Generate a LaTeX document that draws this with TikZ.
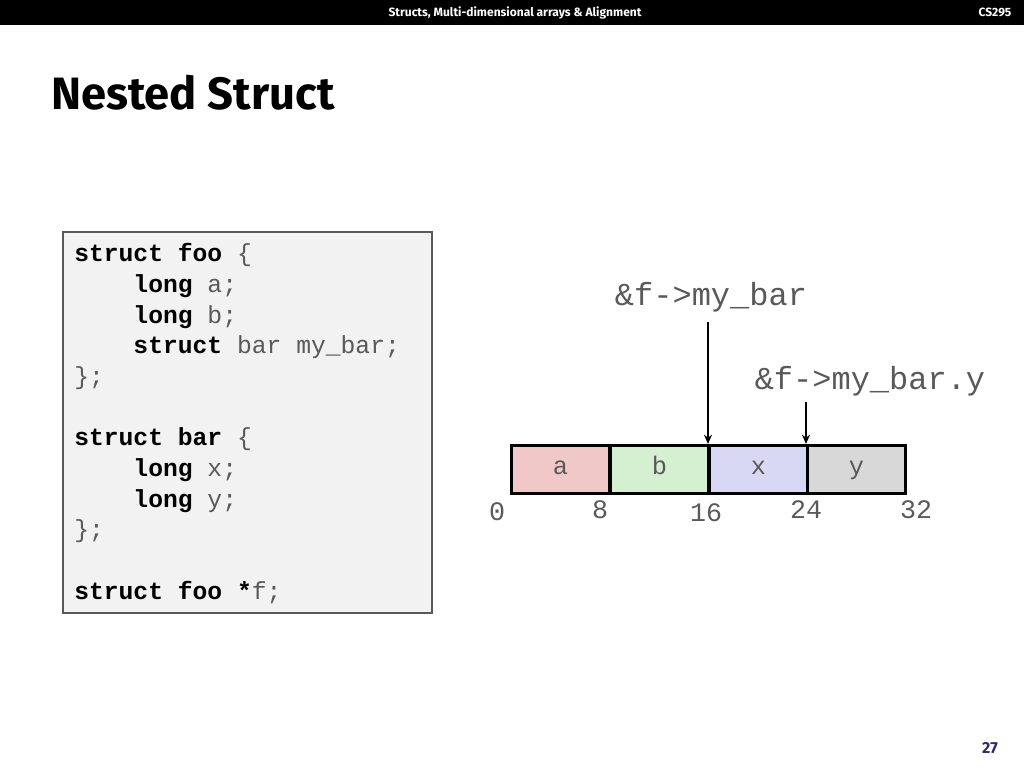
\documentclass[tikz,border=0pt]{standalone}
\usepackage{fontspec}
\setmainfont{Fira Sans}
\setmonofont{Liberation Mono}
\usetikzlibrary{arrows.meta}
\definecolor{cA}{HTML}{F0C8C8}
\definecolor{cB}{HTML}{D4F0D0}
\definecolor{cX}{HTML}{D8D8F4}
\definecolor{cY}{HTML}{D8D8D8}
\definecolor{codegray}{HTML}{595959}
\definecolor{pagenum}{HTML}{2E2A6E}
\newcommand{\kw}[1]{\textbf{\textcolor{black}{#1}}}
\begin{document}
\begin{tikzpicture}[x=0.75pt,y=-0.75pt,
  cell/.style={draw=black,line width=2.2pt,inner sep=0pt,text height=11pt,text depth=3pt,font=\ttfamily\fontsize{19}{19}\selectfont,text=codegray},
  num/.style={font=\ttfamily\fontsize{20}{20}\selectfont,text=codegray},
  lbl/.style={font=\ttfamily\fontsize{24}{24}\selectfont,text=codegray},
  ptr/.style={-{Stealth[length=7pt,width=6pt]},line width=1.6pt},
  code/.style={font=\ttfamily\fontsize{18.5}{18.5}\selectfont,text=codegray,anchor=base west,inner sep=0pt}]
\useasboundingbox (0,0) rectangle (1024,768);
\fill[black] (0,0) rectangle (1024,25);
\node[text=white,font=\bfseries\fontsize{9}{9}\selectfont] (hdr) at (515,12.5) {Structs, Multi-dimensional arrays \& Alignment};
\node[text=white,font=\bfseries\fontsize{9}{9}\selectfont] (cs) at (995,12.5) {CS295};
\node[anchor=base west,font=\bfseries\fontsize{34}{34}\selectfont,inner sep=0pt] (title) at (51,109) {Nested Struct};
\node[text=pagenum,font=\bfseries\fontsize{12}{12}\selectfont] (pg) at (990,748) {27};
\draw[draw=codegray,fill=black!5,line width=0.8pt] (63,232) rectangle (432,613);
\node[code] (c1) at (74,261) {\kw{struct foo} \{};
\node[code] (c2) at (74,292) {\ \ \ \ \kw{long} a;};
\node[code] (c3) at (74,323) {\ \ \ \ \kw{long} b;};
\node[code] (c4) at (74,353) {\ \ \ \ \kw{struct} bar my\_bar;};
\node[code] (c5) at (74,384) {\};};
\node[code] (c6) at (74,445) {\kw{struct bar} \{};
\node[code] (c7) at (74,476) {\ \ \ \ \kw{long} x;};
\node[code] (c8) at (74,507) {\ \ \ \ \kw{long} y;};
\node[code] (c9) at (74,537) {\};};
\node[code] (c10) at (74,599) {\kw{struct foo *}f;};
\foreach \n/\c/\x in {a/cA/510,b/cB/609,x/cX/708,y/cY/806}{
  \node[cell,fill=\c,minimum width=98*0.75pt,minimum height=48*0.75pt,anchor=north west] (\n) at (\x,444) {\n};
}
\node[num] (n0) at (497,512) {0};
\node[num] (n8) at (600,510) {8};
\node[num] (n16) at (706,513) {16};
\node[num] (n24) at (806,510) {24};
\node[num] (n32) at (916,510) {32};
\node[lbl] (l1) at (711,297) {\&f->my\_bar};
\node[lbl] (l2) at (870,381) {\&f->my\_bar.y};
\coordinate (t1) at (708,322);
\coordinate (t2) at (806,402);
\draw[ptr] (t1) -- (x.north west);
\draw[ptr] (t2) -- (y.north west);
\end{tikzpicture}
\end{document}
